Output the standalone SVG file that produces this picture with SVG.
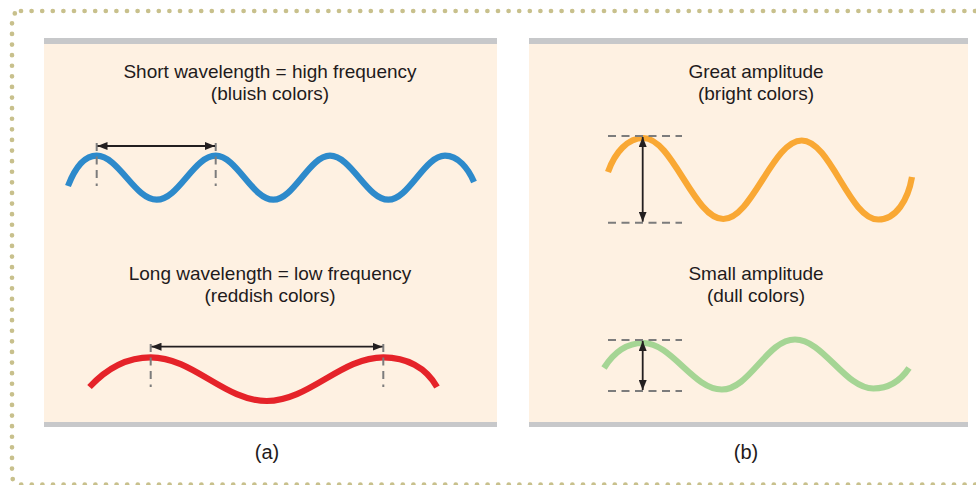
<svg xmlns="http://www.w3.org/2000/svg" width="976" height="485" viewBox="0 0 976 485">
  <defs>
    <style>
      .t { font-family: "Liberation Sans", Arial, sans-serif; font-size: 19px; fill: #1f1b1c; text-anchor: middle; }
      .lbl { font-size: 20px; }
      .panel { fill: #fef1e2; }
      .bar { fill: #c7c8ca; }
      .wave { fill: none; stroke-width: 6.2; stroke-linecap: butt; }
      .dash { stroke: #7c7c7c; stroke-width: 2; stroke-dasharray: 8 5.5; fill: none; }
      .arrow { stroke: #231f20; stroke-width: 1.8; fill: none; marker-start: url(#ah); marker-end: url(#ah); }
    </style>
    <marker id="ah" viewBox="0 0 10 8" refX="10" refY="4" markerWidth="10" markerHeight="8" markerUnits="userSpaceOnUse" orient="auto-start-reverse">
      <path d="M0,0 L10,4 L0,8 z" fill="#231f20"/>
    </marker>
  </defs>

  <rect id="border" x="12" y="11" width="990" height="473.5" rx="9" fill="none" stroke="#c8c08c" stroke-width="4.7" stroke-dasharray="0 10.6" stroke-linecap="round"/>

  <g id="panel-a">
    <rect class="panel" x="44" y="38" width="453" height="389"/>
    <rect class="bar" x="44" y="38" width="453" height="6"/>
    <rect class="bar" x="44" y="422" width="453" height="5"/>
    <text class="t" x="270" y="78">Short wavelength = high frequency</text>
    <text class="t" x="270" y="100">(bluish colors)</text>
    <text class="t" x="270" y="280">Long wavelength = low frequency</text>
    <text class="t" x="270" y="302">(reddish colors)</text>
    <path class="wave" stroke="#2d8acb" d="M 68,186 C 75,168 84,155.7 96.7,155.7 C 118.5,155.7 134.9,199.7 156.7,199.7 C 178.5,199.7 193.9,155.7 215.7,155.7 C 236.6,155.7 252.4,199.7 273.3,199.7 C 293.9,199.7 309.4,155.7 330,155.7 C 351.2,155.7 367.1,199.7 388.3,199.7 C 408.9,199.7 424.4,155.7 445,155.7 C 458,155.7 468,168 474,182"/>
    <path class="wave" stroke="#e52329" d="M 89.5,387 C 108,367 128,357.3 150.7,357.3 C 192.9,357.3 224.5,401 266.7,401 C 309.1,401 341,357.3 383.3,357.3 C 406,357.3 426,367 437,387"/>
  </g>

  <g id="panel-b">
    <rect class="panel" x="529" y="38" width="439" height="389"/>
    <rect class="bar" x="529" y="38" width="439" height="6"/>
    <rect class="bar" x="529" y="422" width="439" height="5"/>
    <text class="t" x="756" y="78">Great amplitude</text>
    <text class="t" x="756" y="100">(bright colors)</text>
    <text class="t" x="756" y="280">Small amplitude</text>
    <text class="t" x="756" y="302">(dull colors)</text>
    <path class="wave" stroke="#f9a834" d="M 608,172 C 615,152 628,138 643.3,138 C 672.4,138 694.2,219 723.3,219 C 752.1,219 772.9,140.5 801.7,140.5 C 830.5,140.5 849.5,219.5 878.3,219.5 C 896,219.5 908,200 912,177"/>
    <path class="wave" stroke="#a5d594" stroke-width="5.2" d="M 604,368 C 614,352 628,343 643.3,343 C 671.7,343 693.3,389.5 721.7,389.5 C 749.8,389.5 766.9,339.5 795,339.5 C 823.4,339.5 844.9,388.5 873.3,388.5 C 889,388.5 901,380 909,368"/>
  </g>

  <g id="connectors">
    <line class="dash" x1="96.7" y1="143" x2="96.7" y2="186"/>
    <line class="dash" x1="215.7" y1="143" x2="215.7" y2="186"/>
    <line class="arrow" x1="97.5" y1="146" x2="215" y2="146"/>
    <line class="dash" x1="150.7" y1="344" x2="150.7" y2="387"/>
    <line class="dash" x1="383.3" y1="344" x2="383.3" y2="387"/>
    <line class="arrow" x1="151.5" y1="346.7" x2="382.5" y2="346.7"/>
    <line class="dash" x1="608" y1="136" x2="682" y2="136"/>
    <line class="dash" x1="608" y1="222.7" x2="682" y2="222.7"/>
    <line class="arrow" x1="642.7" y1="137" x2="642.7" y2="221.7"/>
    <line class="dash" x1="608" y1="340" x2="682" y2="340"/>
    <line class="dash" x1="608" y1="391" x2="682" y2="391"/>
    <line class="arrow" x1="642.7" y1="341" x2="642.7" y2="390"/>
  </g>

  <text class="t lbl" x="267" y="459">(a)</text>
  <text class="t lbl" x="746" y="459">(b)</text>
</svg>
